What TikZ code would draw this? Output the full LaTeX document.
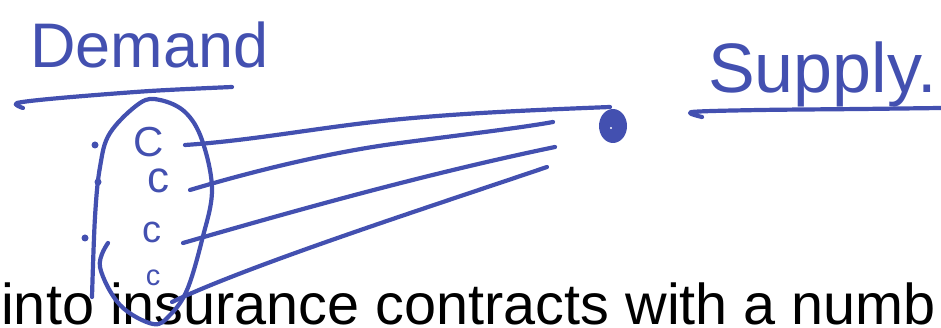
\documentclass[tikz,border=0pt]{standalone}
\usepackage{fontspec}
\setmainfont{Liberation Sans}
\definecolor{pen}{HTML}{4350B0}
\begin{document}
\begin{tikzpicture}[x=1pt,y=-1pt,
  ink/.style={draw=pen,line width=4.2pt,line cap=round,line join=round},
  hand/.style={text=pen,inner sep=0pt,font=\fontsize{#1}{#1}\selectfont},
  hand/.default=40]
\useasboundingbox (0,0) rectangle (941,328);
% bottom text
\node[inner sep=0pt,anchor=base west,font=\fontsize{57.6}{60}\selectfont] (txt) at (1,324) {into insurance contracts with a numb};
% titles
\node[hand=63,anchor=base west] (demand) at (30,68) {Demand};
\node[hand=70,anchor=base west] (supply) at (708,93) {Supply.};
% underlines
\draw[ink] plot[smooth] coordinates {(23,108) (17,103) (60,98) (150,91) (232,87)};
\draw[ink] plot[smooth] coordinates {(702,117) (692,112) (760,110) (860,109) (941,108)};
% c letters
\node[hand=42,anchor=base] (c1) at (149,157) {C};
\node[hand=44,anchor=base] (c2) at (158,193) {c};
\node[hand=38,anchor=base] (c3) at (152,243) {c};
\node[hand=29,anchor=base] (c4) at (153,285) {c};
% side dots
\fill[pen] (95,145) circle (3.5pt);
\fill[pen] (98,182) circle (3.5pt);
\fill[pen] (85,238) circle (3.5pt);
% oval
\draw[ink] plot[smooth,tension=0.6] coordinates {(92,297) (95,217) (100,167) (110,133) (140,103) (160,100) (185,112) (202,140) (212,190) (202,240) (187,290) (170,315) (153,324) (120,305) (100,267) (108,243)};
% supply dot
\fill[pen] (613,126) ellipse (14pt and 17pt);
\fill[white] (611,128) circle (1.2pt);
% endpoints
\coordinate (s1) at (185,145);
\coordinate (s2) at (190,190);
\coordinate (s3) at (183,243);
\coordinate (s4) at (172,302);
\coordinate (e1) at (610,107);
\coordinate (e2) at (553,122);
\coordinate (e3) at (555,147);
\coordinate (e4) at (547,167);
\node[inner sep=0pt] (sdot) at (613,126) {};
% connectors
\draw[ink] (s1) .. controls (260,140) and (330,125) .. (413,118) .. controls (480,112) and (560,109) .. (e1);
\draw[ink] (s2) .. controls (250,172) and (330,152) .. (400,143) .. controls (460,135) and (520,128) .. (e2);
\draw[ink] (s3) .. controls (280,215) and (420,175) .. (e3);
\draw[ink] (s4) .. controls (250,265) and (420,210) .. (e4);
\end{tikzpicture}
\end{document}
